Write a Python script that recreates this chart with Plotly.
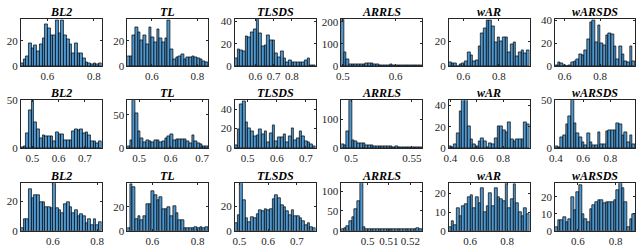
import plotly.graph_objects as go

titles = ["BL2", "TL", "TLSDS", "ARRLS", "wAR", "wARSDS"]

# ---- row 1 counts ----
r1_bl2 = [2, 5, 8, 18, 14, 16, 12, 17, 22, 33, 30, 24, 24, 36, 26, 36, 24, 21, 17, 10, 18, 10, 10, 6, 3, 2, 1, 2, 1, 2]
r1_tl = [8, 8, 24, 31, 27, 20, 24, 17, 31, 23, 19, 29, 22, 19, 22, 36, 13, 5, 7, 8, 9, 5, 7, 7, 8, 7, 6, 5, 4, 3]
r1_tlsds = [7, 15, 14, 13, 27, 26, 30, 33, 42, 29, 18, 19, 28, 23, 23, 11, 8, 13, 7, 3, 5, 3, 3, 3, 3, 3, 5, 7, 1, 1]
r1_arrls = [211, 60, 30, 8, 7, 8, 6, 8, 6, 12, 10, 10, 8, 8, 5, 4, 4, 5, 6, 4, 3, 3, 3, 3, 3, 2, 2, 2, 2, 2]
r1_war = [3, 2, 2, 0, 1, 2, 4, 11, 9, 4, 5, 16, 27, 31, 37, 37, 32, 19, 23, 20, 23, 23, 11, 18, 19, 8, 11, 13, 10, 13]
r1_warsds = [1, 3, 2, 1, 0, 1, 3, 4, 6, 10, 9, 14, 23, 38, 40, 21, 36, 20, 18, 27, 29, 28, 17, 6, 17, 10, 4, 3, 17, 4]

# ---- row 2 counts ----
r2_bl2 = [1, 2, 15, 40, 50, 27, 20, 10, 13, 12, 12, 12, 7, 16, 14, 14, 8, 8, 8, 17, 20, 18, 20, 15, 16, 13, 7, 7, 5, 7]
r2_tl = [3, 12, 72, 52, 25, 15, 8, 12, 10, 8, 12, 12, 8, 10, 15, 18, 20, 12, 13, 13, 13, 13, 10, 7, 19, 10, 7, 5, 3, 2]
r2_tlsds = [3, 19, 45, 48, 26, 20, 17, 12, 13, 19, 14, 17, 6, 15, 23, 7, 11, 11, 14, 6, 12, 20, 8, 10, 17, 12, 7, 6, 4, 2]
r2_arrls = [12, 10, 60, 167, 28, 22, 17, 17, 15, 10, 8, 8, 6, 7, 5, 5, 5, 6, 5, 3, 5, 3, 3, 2, 2, 2, 2, 1, 1, 1]
r2_war = [2, 1, 3, 14, 35, 46, 46, 20, 8, 3, 2, 6, 9, 6, 1, 4, 3, 9, 20, 20, 17, 15, 24, 8, 6, 8, 8, 8, 24, 22]
r2_warsds = [2, 1, 11, 13, 25, 33, 50, 26, 15, 11, 6, 3, 15, 6, 3, 3, 16, 4, 4, 17, 18, 18, 18, 26, 25, 13, 16, 6, 13, 4]

# ---- row 3 counts ----
r3_bl2 = [2, 8, 8, 28, 22, 24, 24, 19, 19, 16, 16, 15, 32, 15, 14, 12, 18, 19, 16, 12, 14, 10, 11, 10, 5, 8, 4, 8, 4, 6]
r3_tl = [2, 39, 37, 10, 12, 9, 12, 22, 22, 33, 30, 26, 28, 18, 18, 20, 12, 21, 15, 9, 9, 2, 2, 2, 2, 3, 2, 3, 2, 3]
r3_tlsds = [6, 13, 39, 25, 10, 7, 11, 10, 14, 17, 16, 18, 17, 18, 26, 29, 27, 21, 19, 16, 13, 17, 12, 12, 10, 8, 5, 6, 3, 2]
r3_arrls = [5, 6, 12, 25, 35, 55, 75, 120, 8, 5, 4, 5, 4, 4, 4, 4, 4, 4, 3, 4, 4, 5, 4, 3, 4, 3, 4, 3, 6, 4]
r3_war = [2, 5, 3, 12, 8, 13, 14, 18, 19, 12, 18, 15, 23, 10, 13, 20, 13, 23, 18, 17, 16, 26, 12, 17, 25, 15, 10, 8, 12, 9]
r3_warsds = [2, 6, 6, 8, 5, 7, 20, 12, 23, 27, 10, 7, 5, 13, 15, 17, 18, 18, 16, 17, 17, 17, 18, 24, 28, 25, 17, 2, 7, 10]

# ---- bin edges (first / last edge) per panel ----
r1_lo = [0.485, 0.491, 0.486, 0.497, 0.517, 0.546]
r1_hi = [0.834, 0.848, 0.930, 0.650, 0.972, 0.996]
r2_lo = [0.456, 0.4625, 0.456, 0.4919, 0.387, 0.395]
r2_hi = [0.764, 0.719, 0.733, 0.5583, 1.000, 0.980]
r3_lo = [0.454, 0.490, 0.484, 0.4877, 0.485, 0.480]
r3_hi = [0.821, 0.846, 0.765, 0.5255, 0.920, 0.903]

# ---- tick labels ----
r1_xticks = [[0.6, 0.8], [0.6, 0.8], [0.6, 0.7, 0.8], [0.5, 0.6], [0.6, 0.8], [0.6, 0.8]]
r2_xticks = [[0.5, 0.6, 0.7], [0.5, 0.6, 0.7], [0.5, 0.6, 0.7], [0.5, 0.55], [0.4, 0.6, 0.8], [0.4, 0.6, 0.8]]
r3_xticks = [[0.6, 0.8], [0.6, 0.8], [0.5, 0.6, 0.7], [0.5, 0.51, 0.52], [0.6, 0.8], [0.6, 0.8]]
r1_yticks = [[0, 20], [0, 20], [0, 20, 40], [0, 100, 200], [0, 20], [0, 20, 40]]
r2_yticks = [[0, 50], [0, 50], [0, 20, 40], [0, 100], [0, 20, 40], [0, 50]]
r3_yticks = [[0, 20], [0, 20], [0, 20], [0, 50, 100], [0, 10, 20], [0, 10, 20]]
r1_ymax = [37, 37, 42, 211, 38, 41]
r2_ymax = [50, 72, 49, 167, 45, 50]
r3_ymax = [32, 40, 39, 120, 25.5, 28]

rows = [
    ([r1_bl2, r1_tl, r1_tlsds, r1_arrls, r1_war, r1_warsds], r1_lo, r1_hi, r1_xticks, r1_yticks, r1_ymax),
    ([r2_bl2, r2_tl, r2_tlsds, r2_arrls, r2_war, r2_warsds], r2_lo, r2_hi, r2_xticks, r2_yticks, r2_ymax),
    ([r3_bl2, r3_tl, r3_tlsds, r3_arrls, r3_war, r3_warsds], r3_lo, r3_hi, r3_xticks, r3_yticks, r3_ymax),
]

W, H = 640, 252
col_left = [15, 123, 232, 340, 449, 557]
col_w = 82
row_top = [14, 99, 186]
row_bot = [63, 149, 236]

FONT = "Liberation Serif"
AXC = "#262626"

fig = go.Figure()
layout = dict(width=W, height=H, margin=dict(l=0, r=0, t=0, b=0),
              paper_bgcolor="white", plot_bgcolor="white",
              showlegend=False, bargap=0, annotations=[])

k = 0
for r, (series, lo, hi, xt, yt, ym) in enumerate(rows):
    for c in range(6):
        k += 1
        counts = series[c]
        n = len(counts)
        bw = (hi[c] - lo[c]) / n
        centers = [lo[c] + (i + 0.5) * bw for i in range(n)]
        xa = "x" if k == 1 else f"x{k}"
        ya = "y" if k == 1 else f"y{k}"
        fig.add_trace(go.Bar(
            x=centers, y=counts, width=bw, xaxis=xa, yaxis=ya,
            marker=dict(color="#4F97CF", line=dict(color="black", width=0.7)),
        ))
        x0 = col_left[c] / W
        x1 = min(col_left[c] + col_w, 638) / W
        y0 = 1 - row_bot[r] / H
        y1 = 1 - row_top[r] / H
        common = dict(showline=True, mirror="ticks", linecolor=AXC, linewidth=0.7,
                      ticks="inside", ticklen=2, tickcolor=AXC, tickwidth=0.7,
                      showgrid=False, zeroline=False,
                      tickfont=dict(family=FONT, size=11, color=AXC))
        layout["xaxis" if k == 1 else f"xaxis{k}"] = dict(
            domain=[x0, x1], range=[lo[c], hi[c]], tickvals=xt[c],
            anchor=ya, **common)
        layout["yaxis" if k == 1 else f"yaxis{k}"] = dict(
            domain=[y0, y1], range=[0, ym[c]], tickvals=yt[c],
            anchor=xa, **common)
        layout["annotations"].append(dict(
            xref="paper", yref="paper", x=(x0 + x1) / 2, y=y1,
            xanchor="center", yanchor="bottom", yshift=-2, showarrow=False,
            text=f"<b><i>{titles[c]}</i></b>",
            font=dict(family=FONT, size=12, color="black")))

fig.update_layout(**layout)
fig.write_html("out.html", config={"displayModeBar": False},
               post_script="document.body.style.margin='0';document.body.style.overflow='hidden';")
